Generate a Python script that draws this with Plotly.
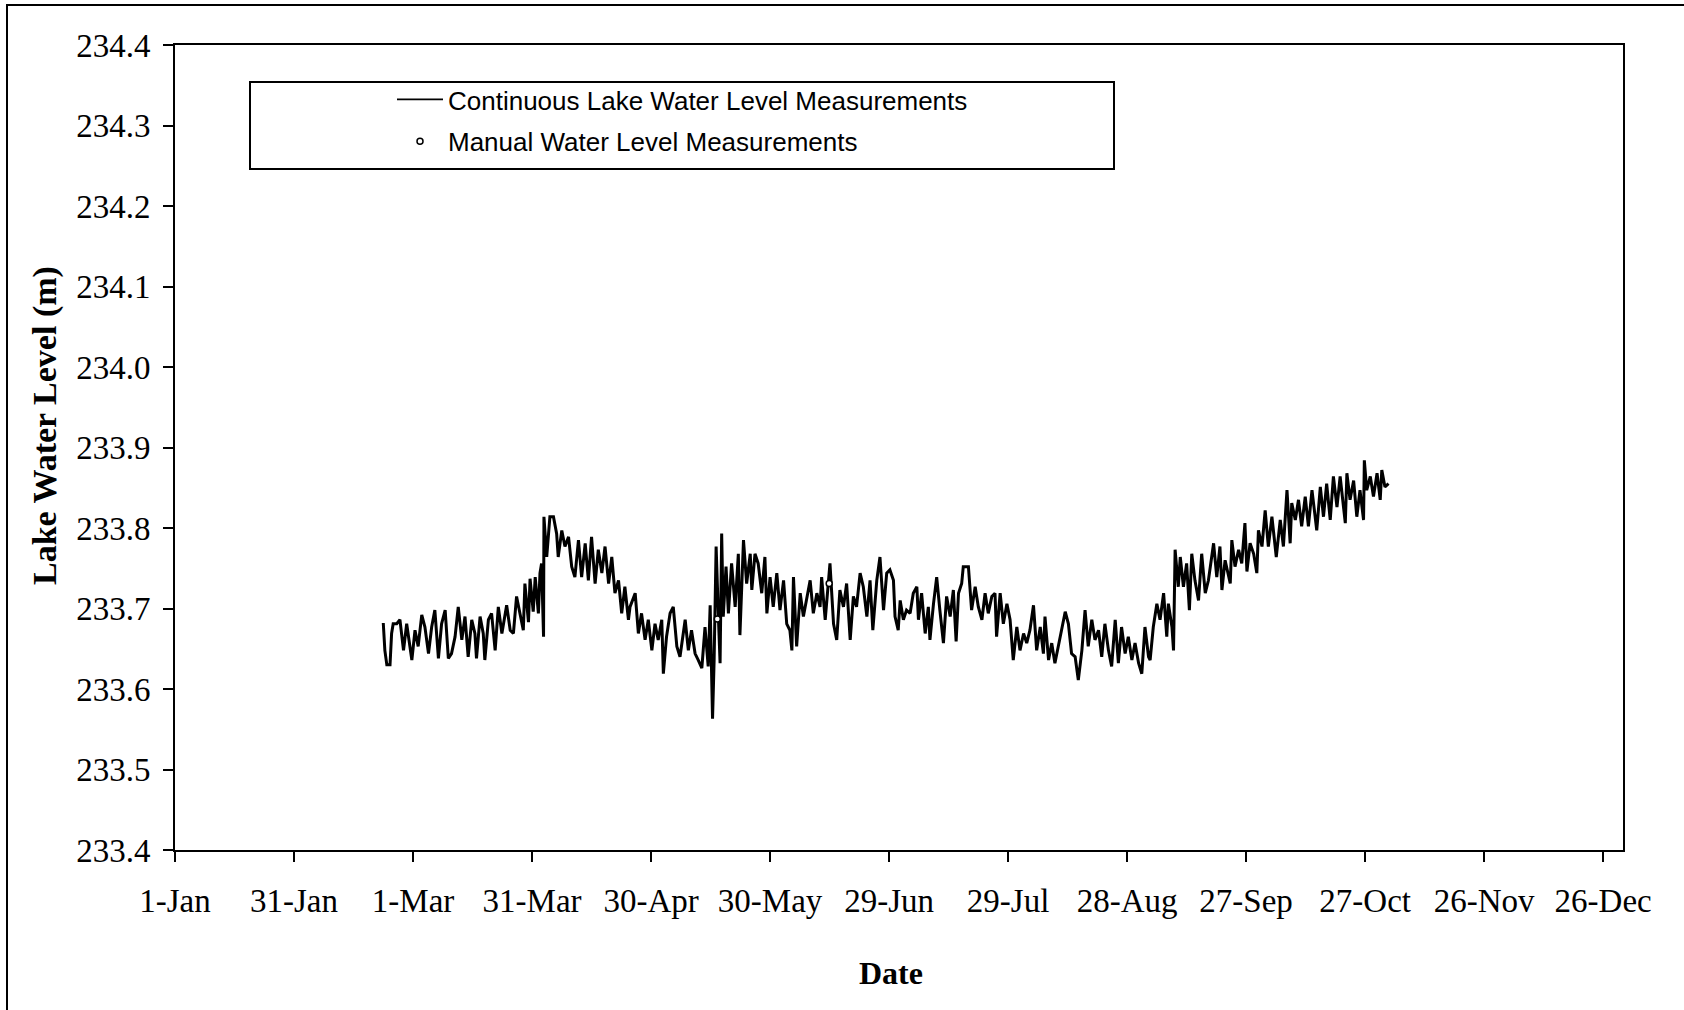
import pandas as pd
import plotly.graph_objects as go

# ---------------- data ----------------
YEAR_START = "2008-01-01"

# day of year (days after 1-Jan) for the continuous logger record
cont_day = [
    52.5, 52.9, 53.4, 54.2, 54.6, 55.0, 55.9, 56.7, 57.6, 58.4, 59.7, 60.5, 61.3, 62.2, 63.0, 63.9,
    64.7, 65.5, 66.4, 67.2, 68.1, 68.9, 69.7, 70.6, 71.4, 72.3, 73.1, 73.9, 74.8, 75.6, 76.0, 76.9,
    77.7, 78.1, 79.0, 79.8, 80.7, 81.5, 82.4, 83.6, 84.5, 85.3, 86.1, 87.0, 87.8, 88.2, 89.1, 89.5,
    90.3, 90.8, 91.6, 92.0, 92.4, 92.9, 93.0, 93.7, 94.5, 95.4, 96.2, 96.6, 97.5, 98.3, 99.2, 100.0,
    100.8, 101.7, 102.5, 103.4, 104.2, 105.0, 105.9, 106.7, 107.6, 108.4, 109.3, 110.1, 110.9, 111.8,
    112.6, 113.4, 114.3,
    114.7, 116.0, 116.8, 117.6, 118.5, 119.3, 120.2, 121.0, 121.8, 122.7, 123.1, 123.9, 124.8, 125.6,
    126.5, 127.3, 128.6, 129.4, 130.2, 131.1, 131.9, 132.8, 133.6, 134.4, 134.9, 135.5, 135.9, 136.4,
    137.0, 137.4, 137.8, 138.2, 138.9, 139.5, 140.3, 141.2, 142.0, 142.4, 143.3, 144.1, 145.0, 145.4,
    146.2, 147.0, 147.9, 148.7, 149.2, 150.0, 150.8, 151.7, 152.5, 153.4, 154.2, 155.0, 155.5, 155.9,
    156.7, 157.6, 158.4, 160.1, 160.9, 161.8, 162.6, 163.0, 163.9, 164.7, 165.1, 166.0, 166.8, 167.6,
    168.5, 169.3, 170.2, 171.0, 171.8, 172.7, 173.5, 174.4, 175.2, 175.9, 176.9, 177.7, 178.6, 179.4,
    180.2, 181.1, 181.5, 182.3, 182.8, 183.6, 184.4, 185.3, 186.1, 187.0, 187.4, 188.2, 189.1, 189.9,
    190.3, 191.2, 192.0, 192.8, 193.7, 194.5, 195.4, 196.2, 196.9, 197.5, 198.3, 198.7, 200.0, 200.8,
    201.7, 202.5, 203.4, 204.2, 205.0, 205.9, 206.7, 207.1, 208.0, 208.8, 209.7, 210.5, 211.3, 212.2,
    213.0, 213.9, 214.7, 215.5, 216.4, 217.2, 218.1, 218.9, 219.3, 220.2, 221.0, 221.8, 222.7, 223.5,
    224.4, 225.2, 226.0, 226.9, 227.7, 228.6, 229.4, 230.2, 231.1, 231.9, 232.8, 233.6, 234.4, 235.3,
    236.1, 237.0, 237.8, 238.6, 239.5, 240.3, 241.2, 242.0, 242.9, 243.7, 244.5, 245.4,
    245.8, 246.6, 247.5, 248.3, 249.2, 250.0, 250.4, 251.3, 251.7, 252.1, 252.9, 253.4, 254.2, 255.0,
    255.7, 256.3, 257.1, 258.0, 258.8, 259.7, 260.5, 261.8, 262.6, 263.4, 263.9, 264.7, 266.0, 266.4,
    267.2, 268.1, 268.9, 269.7, 270.2, 271.0, 271.9, 272.7, 273.1, 274.0, 274.8, 275.6, 276.5, 277.6,
    278.6, 279.4, 280.3, 281.1, 281.5, 282.4, 283.2, 284.0, 284.9, 285.7, 286.6, 287.4, 287.8, 288.7,
    289.5, 290.3, 291.2, 292.0, 292.9, 293.7, 295.0, 295.4, 296.2, 297.1, 297.9, 298.7, 299.6, 299.8,
    300.4, 301.3, 302.1, 303.0, 303.8, 304.2, 305.0, 305.9,
]

# lake water level (m) for the continuous record
cont_level = [
    233.682, 233.648, 233.630, 233.630, 233.669, 233.681, 233.681, 233.686, 233.648, 233.681, 233.636, 233.673, 233.653, 233.692, 233.677, 233.644,
    233.677, 233.698, 233.638, 233.681, 233.698, 233.638, 233.644, 233.665, 233.702, 233.661, 233.690, 233.640, 233.686, 233.669, 233.638, 233.690,
    233.669, 233.636, 233.686, 233.694, 233.648, 233.702, 233.669, 233.704, 233.673, 233.669, 233.715, 233.694, 233.673, 233.731, 233.683, 233.737,
    233.696, 233.739, 233.694, 233.744, 233.756, 233.665, 233.814, 233.764, 233.814, 233.814, 233.793, 233.764, 233.797, 233.777, 233.789, 233.752,
    233.739, 233.785, 233.739, 233.781, 233.735, 233.789, 233.731, 233.773, 233.744, 233.777, 233.731, 233.764, 233.719, 233.735,
    233.694, 233.727, 233.686,
    233.702, 233.719, 233.669, 233.694, 233.661, 233.686, 233.648, 233.681, 233.661, 233.686, 233.619, 233.665, 233.694, 233.702,
    233.653, 233.640, 233.686, 233.648, 233.673, 233.644, 233.636, 233.626, 233.677, 233.628, 233.704, 233.563, 233.636, 233.777,
    233.686, 233.632, 233.793, 233.690, 233.752, 233.694, 233.756, 233.702, 233.768, 233.667, 233.785, 233.731, 233.768, 233.723,
    233.768, 233.756, 233.719, 233.764, 233.694, 233.739, 233.702, 233.744, 233.698, 233.735, 233.681, 233.673, 233.648, 233.739,
    233.653, 233.719, 233.690, 233.735, 233.694, 233.719, 233.702, 233.739, 233.686, 233.739, 233.756, 233.681, 233.661, 233.723,
    233.702, 233.731, 233.661, 233.715, 233.702, 233.744, 233.727, 233.690, 233.735, 233.673, 233.735, 233.764, 233.698, 233.744,
    233.748, 233.735, 233.690, 233.673, 233.710, 233.686, 233.698, 233.694, 233.719, 233.727, 233.686, 233.719, 233.669, 233.702,
    233.661, 233.706, 233.739, 233.698, 233.657, 233.715, 233.690, 233.723, 233.659, 233.719, 233.731, 233.752, 233.752, 233.698,
    233.727, 233.702, 233.686, 233.719, 233.694, 233.715, 233.719, 233.665, 233.719, 233.681, 233.706, 233.686, 233.636, 233.677,
    233.648, 233.669, 233.657, 233.673, 233.704, 233.648, 233.677, 233.644, 233.690, 233.636, 233.657, 233.632, 233.653, 233.673,
    233.696, 233.681, 233.644, 233.640, 233.611, 233.648, 233.698, 233.653, 233.686, 233.661, 233.673, 233.640, 233.681, 233.648,
    233.628, 233.686, 233.632, 233.677, 233.644, 233.665, 233.636, 233.657, 233.632, 233.619, 233.677, 233.640,
    233.636, 233.677, 233.706, 233.686, 233.719, 233.665, 233.706, 233.677, 233.648, 233.773, 233.727, 233.764, 233.727, 233.756,
    233.698, 233.768, 233.735, 233.710, 233.768, 233.719, 233.735, 233.781, 233.739, 233.777, 233.723, 233.760, 233.731, 233.785,
    233.752, 233.773, 233.756, 233.806, 233.746, 233.781, 233.768, 233.744, 233.797, 233.777, 233.822, 233.777, 233.814, 233.764,
    233.810, 233.777, 233.847, 233.781, 233.831, 233.810, 233.835, 233.802, 233.839, 233.802, 233.847, 233.814, 233.797, 233.851,
    233.814, 233.855, 233.810, 233.864, 233.826, 233.864, 233.806, 233.868, 233.835, 233.859, 233.814, 233.847, 233.810, 233.884,
    233.847, 233.864, 233.839, 233.868, 233.835, 233.872, 233.851, 233.855,
]

# manual (hand) measurements
manual_day = [136.7, 164.9]
manual_level = [233.687, 233.731]

# axis ticks
x_tick_day = [0, 30, 60, 90, 120, 150, 180, 210, 240, 270, 300, 330, 360]
x_tick_labels = ["1-Jan", "31-Jan", "1-Mar", "31-Mar", "30-Apr", "30-May", "29-Jun",
                 "29-Jul", "28-Aug", "27-Sep", "27-Oct", "26-Nov", "26-Dec"]
y_tick_vals = [233.4, 233.5, 233.6, 233.7, 233.8, 233.9, 234.0, 234.1, 234.2, 234.3, 234.4]
y_tick_labels = ["233.4", "233.5", "233.6", "233.7", "233.8", "233.9", "234.0",
                 "234.1", "234.2", "234.3", "234.4"]

# ---------------- figure ----------------
start = pd.Timestamp(YEAR_START)
to_date = lambda days: [start + pd.Timedelta(days=float(d)) for d in days]

cont_x = to_date(cont_day)
manual_x = to_date(manual_day)
tick_x = to_date(x_tick_day)

SERIF = "Liberation Serif, Times New Roman, serif"
SANS = "Liberation Sans, Arial, sans-serif"
CONT_NAME = "Continuous Lake Water Level Measurements"

fig = go.Figure()
fig.add_trace(go.Scatter(
    x=cont_x, y=cont_level, mode="lines",
    line=dict(color="black", width=3),
    name=CONT_NAME, legendgroup="a", showlegend=False,
))
# legend entry for the continuous record (thinner sample line, as in the original legend)
fig.add_trace(go.Scatter(
    x=[None], y=[None], mode="lines",
    line=dict(color="black", width=1.6),
    name=CONT_NAME, legendgroup="a", showlegend=True, hoverinfo="skip",
))
fig.add_trace(go.Scatter(
    x=manual_x, y=manual_level, mode="markers",
    marker=dict(symbol="circle", size=6, color="white", line=dict(color="black", width=1.5)),
    name="Manual Water Level Measurements", legendgroup="b",
))

W, H = 1684, 1010
L, R, T, B = 175, 1623, 45, 850
pw, ph = R - L, B - T

def px(x):
    return (x - L) / pw

def py(y):
    return (B - y) / ph

fig.update_layout(
    width=W, height=H,
    margin=dict(l=L, r=W - R, t=T, b=H - B, autoexpand=False),
    paper_bgcolor="white", plot_bgcolor="white",
    showlegend=True,
    legend=dict(
        x=px(392), y=py(76), xanchor="left", yanchor="top",
        bgcolor="rgba(0,0,0,0)", borderwidth=0,
        font=dict(family=SANS, size=26, color="black"),
        itemwidth=46, tracegroupgap=5, traceorder="grouped",
    ),
    xaxis=dict(
        type="date", range=[start, start + pd.Timedelta(days=365)],
        tickmode="array", tickvals=tick_x, ticktext=x_tick_labels,
        ticks="outside", ticklen=10, tickwidth=2, tickcolor="black",
        showline=True, linecolor="black", linewidth=2, mirror=True,
        showgrid=False, zeroline=False,
        tickfont=dict(family=SERIF, size=33, color="black"),
        ticklabelstandoff=10,
    ),
    yaxis=dict(
        range=[233.4, 234.4],
        tickmode="array", tickvals=y_tick_vals, ticktext=y_tick_labels,
        ticks="outside", ticklen=10, tickwidth=2, tickcolor="black",
        showline=True, linecolor="black", linewidth=2, mirror=True,
        showgrid=False, zeroline=False,
        tickfont=dict(family=SERIF, size=33, color="black"),
        ticklabelstandoff=6,
    ),
    shapes=[
        # legend frame
        dict(type="rect", xref="paper", yref="paper",
             x0=px(250), x1=px(1114), y0=py(169), y1=py(82),
             line=dict(color="black", width=2), fillcolor="rgba(0,0,0,0)", layer="above"),
        # chart-area frame (cut off at right/bottom like the reference)
        dict(type="rect", xref="paper", yref="paper",
             x0=px(7), x1=px(1700), y0=py(1030), y1=py(5),
             line=dict(color="black", width=2), fillcolor="rgba(0,0,0,0)", layer="above"),
    ],
    annotations=[
        dict(text="<b>Date</b>", xref="paper", yref="paper", x=px(891), y=py(973),
             xanchor="center", yanchor="middle", showarrow=False,
             font=dict(family=SERIF, size=32, color="black")),
        dict(text="<b>Lake Water Level (m)</b>", xref="paper", yref="paper",
             x=px(45), y=py(426), xanchor="center", yanchor="middle", showarrow=False,
             textangle=-90, font=dict(family=SERIF, size=34, color="black")),
    ],
)

fig.write_html("out.html", config={"displayModeBar": False},
               post_script="document.body.style.margin='0px';")
